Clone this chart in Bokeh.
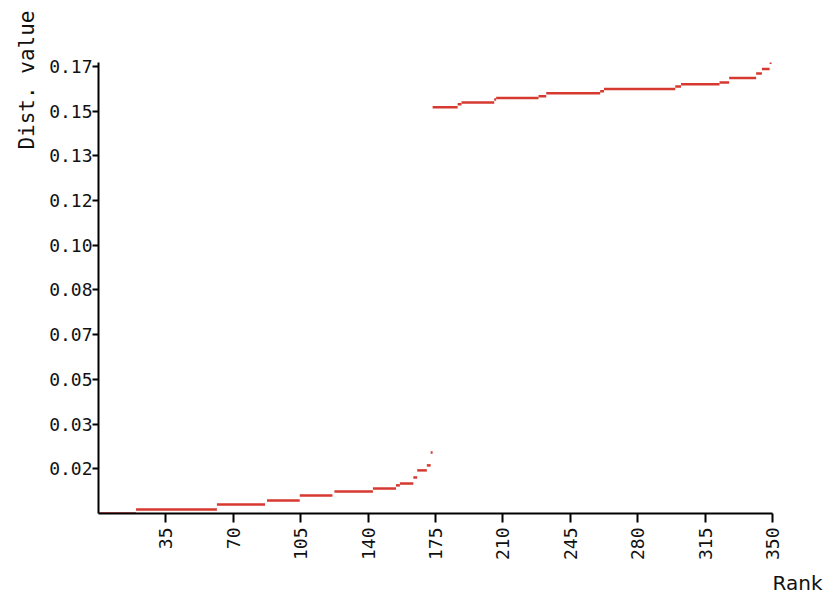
import math
from bokeh.plotting import figure
from bokeh.models import Range1d, FixedTicker, Title
from bokeh.embed import file_html
from bokeh.resources import INLINE

# Step runs: rank start, rank end, distance value
low_start = [1, 20, 62, 88, 105, 123, 143, 155, 157, 164, 166, 171, 173]
low_end = [19, 61, 86, 104, 121, 142, 154, 156, 163, 165, 170, 172, 173]
low_value = [0.0000, 0.0015, 0.0034, 0.0049, 0.0068, 0.0084, 0.0095,
             0.0107, 0.0114, 0.0137, 0.0164, 0.0183, 0.0232]

high_start = [174, 187, 189, 206, 207, 229, 233, 261, 263, 300, 303, 323, 328, 342, 345, 349]
high_end = [186, 188, 205, 206, 228, 232, 260, 262, 299, 302, 322, 327, 341, 344, 348, 349]
high_value = [0.1545, 0.1556, 0.1563, 0.1574, 0.1580, 0.1587, 0.1598, 0.1606,
              0.1614, 0.1624, 0.1632, 0.1639, 0.1656, 0.1673, 0.1690, 0.1714]

x_ticks = [35, 70, 105, 140, 175, 210, 245, 280, 315, 350]
y_ticks = [0.017, 0.034, 0.051, 0.068, 0.085, 0.102, 0.119, 0.136, 0.153, 0.170]
y_tick_labels = ["0.02", "0.03", "0.05", "0.07", "0.08", "0.10", "0.12", "0.13", "0.15", "0.17"]

RED = "#d6392f"
MONO = "DejaVu Sans Mono"

p = figure(width=825, height=601, output_backend="svg", toolbar_location=None,
           x_range=Range1d(0, 350), y_range=Range1d(0, 0.1715),
           min_border_left=98, min_border_top=62, min_border_right=53, min_border_bottom=88)
p.outline_line_color = None
p.xgrid.visible = False
p.ygrid.visible = False
p.background_fill_color = "white"
p.border_fill_color = "white"

runs_x0 = [s - 0.5 for s in low_start + high_start]
runs_x1 = [e + 0.5 for e in low_end + high_end]
runs_y = low_value + high_value
p.segment(x0=runs_x0, x1=runs_x1, y0=runs_y, y1=runs_y,
          line_color=RED, line_width=2.5)

for ax in (p.xaxis[0], p.yaxis[0]):
    ax.axis_line_color = "black"
    ax.axis_line_width = 2
    ax.major_tick_line_color = "black"
    ax.major_tick_line_width = 2
    ax.major_tick_in = 0
    ax.minor_tick_line_color = None
    ax.major_label_text_font = MONO
    ax.major_label_text_font_size = "18px"
    ax.major_label_text_color = "#111111"

p.xaxis.ticker = FixedTicker(ticks=x_ticks)
p.xaxis.major_label_orientation = math.pi / 2
p.xaxis.major_tick_out = 9
p.xaxis.major_label_standoff = 5

p.yaxis.ticker = FixedTicker(ticks=y_ticks)
p.yaxis.major_label_overrides = {t: l for t, l in zip(y_ticks, y_tick_labels)}
p.yaxis.major_tick_out = 6
p.yaxis.major_label_standoff = 0

p.add_layout(Title(text="Dist. value", align="right", offset=-52, standoff=16,
                   text_font=MONO, text_font_size="21px", text_font_style="normal",
                   text_color="#111111"), "left")
p.add_layout(Title(text="Rank", align="right", offset=-50,
                   text_font="DejaVu Sans", text_font_size="20px", text_font_style="normal",
                   text_color="#111111"), "below")

open("out.html", "w").write(file_html(p, INLINE))
